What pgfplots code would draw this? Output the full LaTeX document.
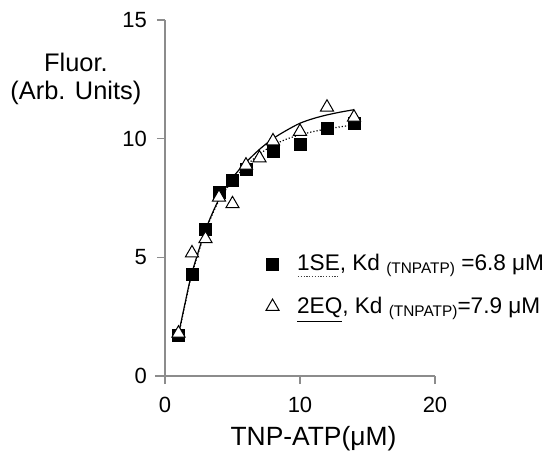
\documentclass[border=0pt]{standalone}
\usepackage{fontspec}
\setmainfont{Liberation Sans}
\usepackage{pgfplots}
\pgfplotsset{compat=1.18}
\usepackage{pgfplotstable}
\pgfplotsset{legend image code/.code={\draw[#1] plot coordinates {(0pt,0pt)};}}

% underlines that stand for the two fit lines
\newcommand\dotul[1]{\setbox0\hbox{#1}\leavevmode\rlap{\smash{\raisebox{-3.2pt}{\color{black!75}\leaders\hbox to 1.4pt{\hss\rule{0.6pt}{0.55pt}\hss}\hskip\wd0}}}\box0}
\newcommand\solidul[1]{\setbox0\hbox{#1}\leavevmode\rlap{\smash{\raisebox{-4.5pt}{\rule{\wd0}{0.6pt}}}}\box0}

% measured points
\pgfplotstableread{
x y
1 1.72
2 4.26
3 6.16
4 7.75
5 8.23
6 8.72
8 9.46
10 9.75
12 10.45
14 10.63
}\seone
\pgfplotstableread{
x y
1 1.80
2 5.18
3 5.78
4 7.53
5 7.25
6 8.88
7 9.18
8 9.90
10 10.30
12 11.32
14 10.90
}\eqtwo
% fitted curves
\pgfplotstableread{
x y
1 1.70
1.5 3.05
2 4.30
3 6.10
4 7.40
5 8.22
6 8.85
7 9.35
8 9.72
9 9.98
10 10.16
11 10.30
12 10.41
13 10.50
14 10.58
}\seonefit
\pgfplotstableread{
x y
1 1.75
1.5 3.10
2 4.35
3 6.15
4 7.45
5 8.35
6 9.00
7 9.55
8 10.00
9 10.35
10 10.65
11 10.85
12 11.00
13 11.12
14 11.22
}\eqtwofit

\begin{document}
\begin{tikzpicture}
\path[use as bounding box] (-77.5pt,-37.5pt) rectangle (193.5pt,188pt);
\begin{axis}[
  scale only axis,
  width=140pt, height=178pt,
  xmin=-0.74, xmax=20, ymin=0, ymax=15,
  enlargelimits=false,
  clip=false,
  axis x line=middle, axis y line=middle,
  axis line style={-, draw=black!45, line width=0.7pt},
  hide obscured x ticks=false, hide obscured y ticks=false,
  xtick={0,10,20}, ytick={0,5,10,15},
  tick align=outside,
  major tick length=4pt,
  tick style={draw=black!45, line width=0.7pt},
  /pgf/number format/assume math mode=true,
  ticklabel style={font=\fontsize{11}{13}\selectfont},
  xticklabel style={yshift=-3pt},
  yticklabel style={xshift=-1.5pt},
  legend cell align=left,
  legend style={draw=none, fill=none, inner sep=0pt,
    at={(axis cs:7.45,5.3)}, anchor=north west,
    font=\fontsize{11.3}{13}\selectfont,
    row sep=7.5pt, column sep=7pt},
]
\addplot[black, densely dotted, line width=0.6pt, smooth, forget plot] table {\seonefit};
\addplot[black, line width=0.6pt, smooth, forget plot] table {\eqtwofit};
\addplot[only marks, mark=square*, mark size=3pt, black] table {\seone};
\addlegendentry{\dotul{1SE}, Kd \raisebox{-1.5pt}{\fontsize{7.7}{9}\selectfont(TNPATP)} =6.8 μM}
\addplot[only marks, mark=triangle*, mark size=3.8pt, draw=black, fill=white, line width=0.5pt] table {\eqtwo};
\addlegendentry{\solidul{2EQ}, Kd \raisebox{-1.5pt}{\fontsize{7.7}{9}\selectfont(TNPATP)}=7.9 μM}
\node[align=center, font=\fontsize{12.7}{14}\selectfont] at (axis cs:-6.6,12.53) {Fluor.\\(Arb. Units)};
\node[font=\fontsize{13.2}{15}\selectfont] at (axis cs:11,-2.62) {TNP-ATP(μM)};
\end{axis}
\end{tikzpicture}
\end{document}
